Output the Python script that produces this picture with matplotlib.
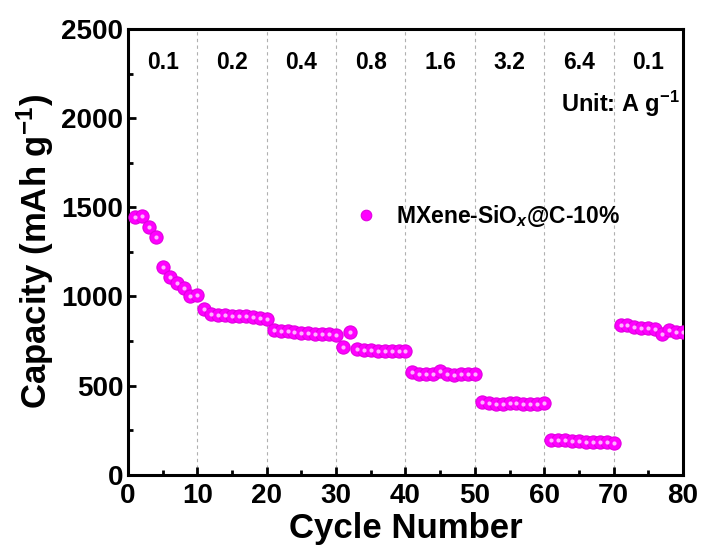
#! /usr/bin/env python3
import matplotlib
matplotlib.use("Agg")
import matplotlib.pyplot as plt
import numpy as np

plt.rcParams["font.family"] = ["Liberation Sans", "DejaVu Sans"]
plt.rcParams["font.weight"] = "bold"
plt.rcParams["mathtext.fontset"] = "custom"
plt.rcParams["mathtext.rm"] = "Liberation Sans:bold"
plt.rcParams["mathtext.it"] = "Liberation Sans:bold:italic"
plt.rcParams["mathtext.bf"] = "Liberation Sans:bold"

# Rate capability data (capacity in mAh/g for each cycle).
cycles = np.arange(1, 81)
capacity = [
    1445, 1450, 1390, 1335, 1165, 1110, 1075, 1050, 1005, 1010,
    928, 904, 895, 897, 893, 890, 888, 885, 880, 876,
    813, 808, 805, 800, 797, 795, 792, 790, 787, 785,
    717, 798, 705, 702, 698, 696, 695, 694, 693, 693,
    574, 568, 565, 563, 583, 566, 562, 565, 566, 565,
    407, 405, 395, 398, 400, 403, 398, 398, 399, 402,
    196, 195, 193, 191, 189, 184, 186, 185, 182, 177,
    841, 840, 828, 825, 825, 816, 792, 812, 798, 803,
]
current_labels = ["0.1", "0.2", "0.4", "0.8", "1.6", "3.2", "6.4", "0.1"]
label_cycles = [5, 15, 25, 35, 45, 55, 65, 75]
boundaries = [10, 20, 30, 40, 50, 60, 70]

fig = plt.figure(figsize=(7.01, 5.56), dpi=100)
ax = fig.add_axes([0.1826, 0.146, 0.7917, 0.802])

for b in boundaries:
    ax.axvline(b, color="#b0b0b0", lw=0.8, ls=(0, (3, 3)), zorder=0)

ax.plot(cycles, capacity, "o", color="#ff00ff", ms=9.5, mec="#e000e0", mew=0.8,
        label=r"MXene-SiO$_{\mathit{x}}$@C-10%", zorder=3)
ax.plot(cycles, capacity, "o", color="#ffb0ff", ms=3, mew=0, zorder=4)

for x, t in zip(label_cycles, current_labels):
    ax.text(x, 2310, t, ha="center", va="center", fontsize=16.5, fontweight="bold")
ax.text(79.6, 2080, r"Unit: A g$^{-1}$", ha="right", va="center",
        fontsize=17, fontweight="bold")

ax.set_xlim(0, 80)
ax.set_ylim(0, 2500)
ax.set_xticks(np.arange(0, 81, 10))
ax.set_xticks(np.arange(5, 80, 10), minor=True)
ax.set_yticks(np.arange(0, 2501, 500))
ax.set_yticks(np.arange(250, 2500, 500), minor=True)
ax.tick_params(which="both", direction="in", width=2, labelsize=20)
ax.tick_params(which="major", length=6)
ax.tick_params(which="minor", length=3.5)
ax.tick_params(axis="x", pad=6)
for lbl in ax.get_xticklabels() + ax.get_yticklabels():
    lbl.set_fontweight("bold")
for s in ax.spines.values():
    s.set_linewidth(2.2)

ax.set_xlabel("Cycle Number", fontsize=25, fontweight="bold", labelpad=2)
ax.set_ylabel(r"Capacity (mAh g$^{-1}$)", fontsize=25, fontweight="bold", labelpad=4)

ax.legend(loc="upper left", bbox_to_anchor=(0.35, 0.655), frameon=False,
          fontsize=16.5, handletextpad=0.3, markerscale=0.8)

fig.savefig("out.png", dpi=100)
